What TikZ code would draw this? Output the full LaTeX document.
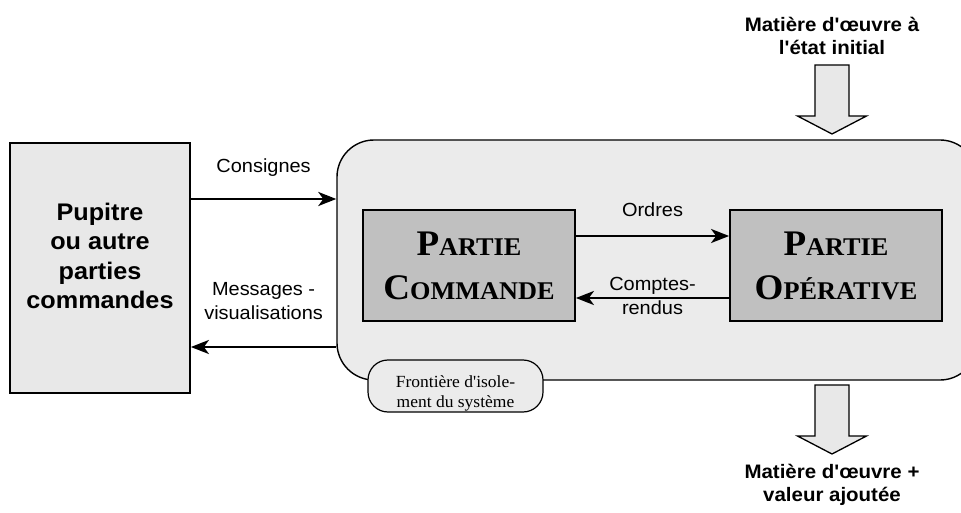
\documentclass[tikz,border=0pt]{standalone}
\usepackage{fontspec}
\setmainfont{Liberation Serif}[FakeStretch=1.03, Ligatures=TeXOff]
\setsansfont{Liberation Sans}[FakeStretch=1.05, Ligatures=TeXOff]
\usetikzlibrary{arrows.meta, positioning}

\definecolor{grisclair}{HTML}{E8E8E8}
\definecolor{grisfond}{HTML}{EBEBEB}
\definecolor{grismoyen}{HTML}{C0C0C0}

\newcommand{\capgrande}[1]{{\fontsize{36}{44}\selectfont #1}}

\tikzset{
    boite/.style={draw, line width=1.8pt},
    partie/.style={boite, fill=grismoyen, minimum width=212pt, minimum height=111pt, align=center, font=\bfseries\fontsize{25.5}{44}\selectfont},
    fleche/.style={line width=2.6pt, -{Stealth[length=18pt, width=14pt, inset=5pt]}},
    etiquette/.style={align=center, font=\sffamily\fontsize{19}{24}\selectfont},
    titre/.style={align=center, font=\sffamily\bfseries\fontsize{19.5}{22.5}\selectfont},
    bloc/.style={draw, line width=1.3pt, fill=grisclair},
}

\begin{document}
\begin{tikzpicture}[x=1pt, y=-1pt]
    \useasboundingbox (0,0) rectangle (961,513);
    \clip (0,0) rectangle (961,513);

    % Systeme
    \node[draw, line width=1.4pt, fill=grisfond, rounded corners=37pt, minimum width=640pt, minimum height=240pt] (systeme) at (657,260) {};

    % Pupitre
    \node[boite, fill=grisclair, minimum width=180pt, minimum height=250pt] (pupitre) at (100,268) {};
    \node[align=center, font=\sffamily\bfseries\fontsize{24}{29.5}\selectfont] (pupitretxt) at (100,256) {Pupitre\\ou autre\\parties\\commandes};

    % Parties
    \node[partie] (commande) at (469,265.5) {\capgrande{P}ARTIE\\\capgrande{C}OMMANDE};
    \node[partie] (operative) at (836,265.5) {\capgrande{P}ARTIE\\\capgrande{O}PÉRATIVE};

    % Frontiere
    \node[draw, line width=1.2pt, fill=grisfond, rounded corners=20pt, minimum width=175pt, minimum height=52pt] (frontiere) at (455.5,386) {};
    \node[align=center, font=\fontsize{17}{20}\selectfont] (frontieretxt) at (455.5,393) {Frontière d'isole-\\ment du système};

    % Niveaux des fleches
    \coordinate (yConsignes) at (0,199);
    \coordinate (yMessages) at (0,347);
    \coordinate (yOrdres) at (0,236);
    \coordinate (yComptes) at (0,298);

    % Echanges
    \draw[fleche] (pupitre.east |- yConsignes) -- node[etiquette, yshift=31pt] (consignes) {Consignes} (systeme.west |- yConsignes);
    \draw[fleche] (systeme.west |- yMessages) -- node[etiquette, yshift=45.5pt] (messages) {Messages -\\visualisations} (pupitre.east |- yMessages);
    \draw[fleche] (commande.east |- yOrdres) -- node[etiquette, yshift=26pt] (ordres) {Ordres} (operative.west |- yOrdres);
    \draw[fleche] (operative.west |- yComptes) -- node[etiquette, yshift=2.5pt] (comptes) {Comptes-\\rendus} (commande.east |- yComptes);

    % Matiere d'oeuvre
    \node[titre] (entree) at (832,36) {Matière d'œuvre à\\l'état initial};
    \node[titre] (sortie) at (832,485) {Matière d'œuvre +\\valeur ajoutée};
    \foreach \haut in {65,385}
        \draw[bloc] (815,\haut) -- ++(34,0) -- ++(0,51) -- ++(17.5,0) -- ++(-34.5,18) -- ++(-34.5,-18) -- ++(17.5,0) -- cycle;
\end{tikzpicture}
\end{document}
